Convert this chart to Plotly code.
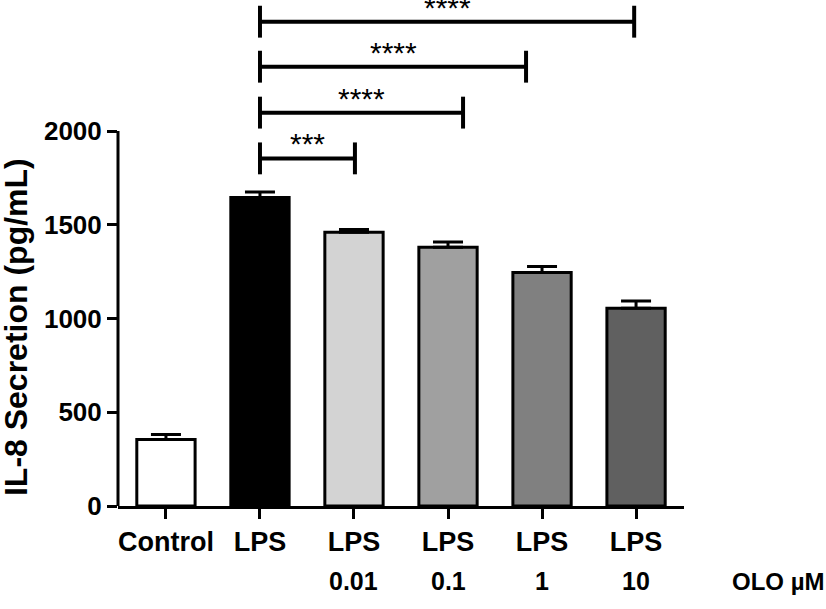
import plotly.graph_objects as go

categories = ["Control", "LPS", "LPS", "LPS", "LPS", "LPS"]
dose_labels = ["", "", "0.01", "0.1", "1", "10"]
means = [355, 1645, 1460, 1380, 1245, 1055]
sem = [27, 30, 15, 28, 32, 38]
bar_colors = ["#ffffff", "#000000", "#d3d3d3", "#a0a0a0", "#808080", "#606060"]
y_ticks = [0, 500, 1000, 1500, 2000]

# significance brackets (start x, end x, height, label)
br_start = [1.0, 1.0, 1.0, 1.0]
br_end = [2.01, 3.16, 3.83, 4.98]
br_height = [1854, 2098, 2343, 2583]
br_label = ["***", "****", "****", "****"]

FONT = "Liberation Sans, Arial, sans-serif"
x = list(range(len(categories)))

fig = go.Figure()
fig.add_trace(go.Bar(
    x=x, y=means, width=0.62,
    marker=dict(color=bar_colors, line=dict(color="black", width=3)),
    error_y=dict(type="data", array=sem, arrayminus=[0] * len(sem), symmetric=False,
                 color="black", thickness=3, width=15),
    showlegend=False, hoverinfo="skip",
))

shapes = []
# y axis line only 0..2000
shapes.append(dict(type="line", xref="paper", yref="y", x0=0, x1=0, y0=0, y1=2000,
                   line=dict(color="black", width=3)))
annotations = []
tick_h = 85
for s, e, h, lab in zip(br_start, br_end, br_height, br_label):
    shapes.append(dict(type="line", xref="x", yref="y", x0=s, x1=e, y0=h, y1=h,
                       line=dict(color="black", width=4)))
    shapes.append(dict(type="line", xref="x", yref="y", x0=s, x1=s, y0=h - tick_h, y1=h + tick_h,
                       line=dict(color="black", width=4)))
    shapes.append(dict(type="line", xref="x", yref="y", x0=e, x1=e, y0=h - tick_h, y1=h + tick_h,
                       line=dict(color="black", width=4)))
    annotations.append(dict(x=(s + e) / 2, y=h, xref="x", yref="y", text=lab, showarrow=False,
                            yanchor="bottom", yshift=-4,
                            font=dict(family=FONT, size=30, color="black")))

for xi, lab in zip(x, dose_labels):
    if lab:
        annotations.append(dict(x=xi, y=0, xref="x", yref="paper", text=lab, showarrow=False,
                                yanchor="middle", yshift=-75,
                                font=dict(family=FONT, size=25, color="black", weight="bold")))
annotations.append(dict(x=1.0, y=0, xref="paper", yref="paper", text="OLO µM", showarrow=False,
                        xanchor="left", xshift=46, yanchor="middle", yshift=-75,
                        font=dict(family=FONT, size=24, color="black", weight="bold")))
annotations.append(dict(x=-0.180, y=955, xref="paper", yref="y", text="IL-8 Secretion (pg/mL)",
                        showarrow=False, textangle=-90, xanchor="center", yanchor="middle",
                        font=dict(family=FONT, size=32, color="black", weight="bold")))

fig.update_layout(
    width=826, height=609,
    margin=dict(l=118, r=142, t=2, b=103),
    paper_bgcolor="white", plot_bgcolor="white",
    shapes=shapes, annotations=annotations,
    xaxis=dict(range=[-0.51, 5.51], tickvals=x, ticktext=categories,
               showline=True, linecolor="black", linewidth=3, ticks="outside",
               ticklen=10, tickwidth=3, tickcolor="black", showgrid=False, zeroline=False,
               tickfont=dict(family=FONT, size=27, color="black", weight="bold")),
    yaxis=dict(range=[0, 2688], tickvals=y_ticks, showline=False, ticks="outside",
               ticklen=10, tickwidth=3, tickcolor="black", showgrid=False, zeroline=False,
               tickfont=dict(family=FONT, size=26, color="black", weight="bold")),
)

fig.write_html("out.html", config={"displayModeBar": False},
               post_script="document.body.style.margin='0';")
